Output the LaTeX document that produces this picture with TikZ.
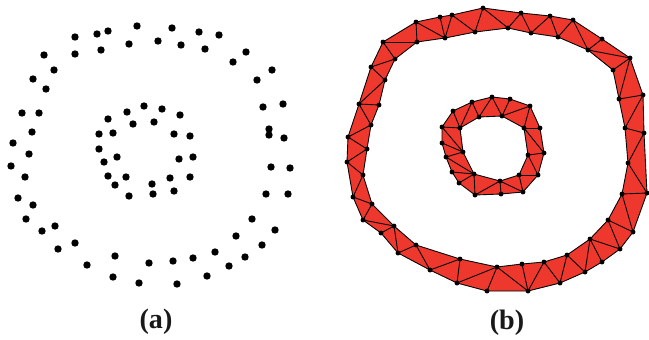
\documentclass[tikz,border=0pt]{standalone}
\usepackage{fontspec}
\setmainfont{Liberation Serif}
\usepackage{tikz}
\definecolor{meshred}{RGB}{238,56,46}
\tikzset{
    sample/.style={fill=black},
    vertexdot/.style={fill=black},
    band/.style={fill=meshred, even odd rule},
    meshedge/.style={draw=black, line width=0.5pt, line join=round},
    caption/.style={font=\fontsize{16}{19}\selectfont\bfseries, text=black!90}
}

\begin{document}
\begin{tikzpicture}[x=0.02cm, y=-0.02cm]
    \useasboundingbox (0,0) rectangle (649,339);

    % (a) point cloud, outer ring
    \foreach \px/\py in {137/26,172/28,199/32,219/35,75/37,97/34,108/31,129/44,158/41,
        181/45,205/49,75/54,101/50,44/55,54/70,33/79,46/89,233/62,246/52,272/70,257/80,
        263/107,283/104,269/129,269/135,284/138,271/167,290/168,22/113,39/113,32/132,
        13/143,29/154,11/166,25/177,18/198,33/205,26/219,42/231,55/226,58/249,75/243,
        87/265,115/256,113/277,139/283,149/263,173/261,177/284,193/258,207/276,215/252,
        229/266,236/236,245/257,252/219,262/245,275/230,266/194,288/194}
        \fill[sample] (\px,\py) circle [radius=2.1pt];
    % (a) point cloud, inner ring
    \foreach \px/\py in {144/106,162/109,127/112,180/115,108/119,133/124,154/122,99/134,
        113/133,174/134,190/136,99/149,117/157,104/162,179/159,193/157,108/176,126/177,
        115/185,129/196,152/184,153/194,170/178,174/191,190/177}
        \fill[sample] (\px,\py) circle [radius=2.1pt];

    % (b) big band: outer and inner boundary
    \foreach \px/\py [count=\i] in {348/137,359/104,371/67,383/42,416/22,440/17,452/15,
        483/8,521/13,550/16,573/20,602/39,630/58,643/95,644/133,647/193,633/232,620/249,
        602/262,585/272,560/283,528/291,487/291,457/283,430/270,398/253,381/233,363/220,
        353/197,347/162}
        \coordinate (A\i) at (\px,\py);
    \foreach \px/\py [count=\i] in {367/149,371/125,379/105,385/80,395/59,417/42,445/38,
        475/32,508/28,531/33,558/37,588/50,613/70,619/99,625/128,628/163,622/194,608/220,
        590/239,567/255,544/262,522/264,497/267,460/259,416/245,394/226,372/204,363/175}
        \coordinate (B\i) at (\px,\py);

    \fill[band] (A1) \foreach \i in {2,...,30}{-- (A\i)} -- cycle
        (B1) \foreach \i in {2,...,28}{-- (B\i)} -- cycle;
    \draw[meshedge] (A1) \foreach \i in {2,...,30}{-- (A\i)} -- cycle;
    \draw[meshedge] (B1) \foreach \i in {2,...,28}{-- (B\i)} -- cycle;
    \foreach \a/\b in {30/1,1/1,1/2,2/2,2/3,2/4,3/4,3/5,4/5,4/6,5/6,5/7,6/7,7/7,7/8,8/8,
        8/9,9/9,9/10,10/10,10/11,11/11,11/12,12/12,13/12,13/13,13/14,14/14,14/15,15/15,
        15/16,16/16,16/17,17/17,17/18,18/18,18/19,19/19,20/19,20/20,21/20,21/21,22/21,
        22/22,22/23,23/23,24/23,24/24,25/24,25/25,26/25,26/26,27/26,28/26,28/27,29/27,
        29/28,30/28}
        \draw[meshedge] (A\a) -- (B\b);

    % (b) small band
    \foreach \px/\py [count=\i] in {442/127,453/111,472/102,492/97,510/99,530/106,540/128,
        544/153,538/175,523/192,501/194,475/195,459/183,452/172,446/157,442/143}
        \coordinate (C\i) at (\px,\py);
    \foreach \px/\py [count=\i] in {460/128,479/117,502/116,524/128,528/155,519/175,
        500/181,474/174,463/152}
        \coordinate (D\i) at (\px,\py);

    \fill[band] (C1) \foreach \i in {2,...,16}{-- (C\i)} -- cycle
        (D1) \foreach \i in {2,...,9}{-- (D\i)} -- cycle;
    \draw[meshedge] (C1) \foreach \i in {2,...,16}{-- (C\i)} -- cycle;
    \draw[meshedge] (D1) \foreach \i in {2,...,9}{-- (D\i)} -- cycle;
    \foreach \c/\d in {16/9,1/9,1/1,2/1,3/1,3/2,4/2,4/3,5/3,6/3,6/4,7/4,8/4,8/5,9/5,9/6,
        10/6,10/7,11/7,12/7,12/8,13/8,14/8,15/8,15/9}
        \draw[meshedge] (C\c) -- (D\d);

    % vertices
    \foreach \i in {1,...,30} \fill[vertexdot] (A\i) circle [radius=1.4pt];
    \foreach \i in {1,...,28} \fill[vertexdot] (B\i) circle [radius=1.4pt];
    \foreach \i in {1,...,16} \fill[vertexdot] (C\i) circle [radius=1.4pt];
    \foreach \i in {1,...,9} \fill[vertexdot] (D\i) circle [radius=1.4pt];

    % captions
    \node[caption] (capa) at (156,322) {(a)};
    \node[caption] (capb) at (507,323) {(b)};
\end{tikzpicture}
\end{document}
